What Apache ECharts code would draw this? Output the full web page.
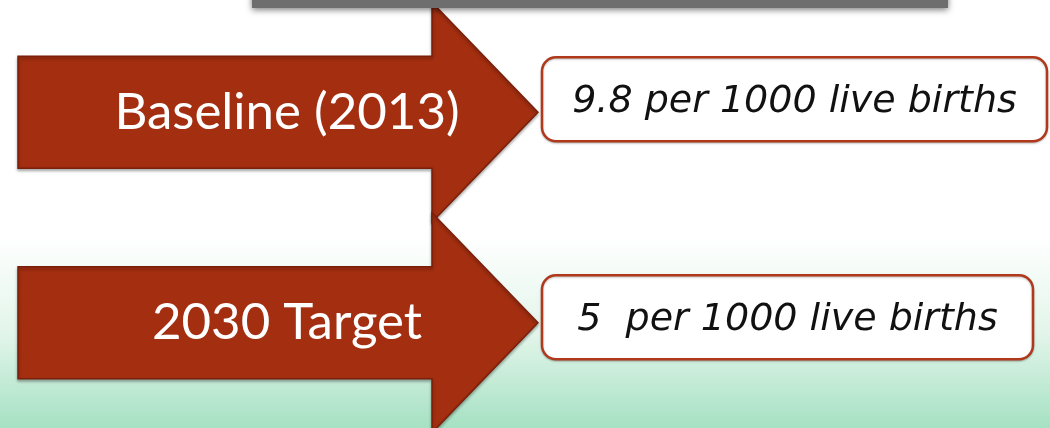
<!DOCTYPE html>
<html>
<head>
<meta charset="utf-8">
<script src="https://cdn.jsdelivr.net/npm/echarts@6/dist/echarts.min.js"></script>
<style>
  html, body { margin: 0; padding: 0; }
  #chart { width: 1050px; height: 428px; }
</style>
</head>
<body>
<div id="chart"></div>
<script>
// indicator rows
const rows = ['Baseline (2013)', '2030 Target']
const rates = [9.8, 5]
const rateLabels = ['9.8 per 1000 live births', '5  per 1000 live births']

// shape layout (x in axis units, y offsets in px from the row centre)
const arrowShape = { left: 18, base: 432, tip: 538, shaftHalf: 56, headHalf: 110, labelX: 287 }
const boxRight = [1047, 1033]
const boxShift = [-13, -5.5]

const chart = echarts.init(document.getElementById('chart'))

function renderRow(params, api) {
  const i = api.value(1)
  const cy = api.coord([0, i])[1]
  const xL = api.coord([arrowShape.left, i])[0]
  const xB = api.coord([arrowShape.base, i])[0]
  const xT = api.coord([arrowShape.tip, i])[0]
  const xLab = api.coord([arrowShape.labelX, i])[0]
  const bx0 = xT + 4
  const bx1 = api.coord([boxRight[i], i])[0]
  const by = cy + boxShift[i]
  const s = arrowShape.shaftHalf
  const h = arrowShape.headHalf

  return {
    type: 'group',
    children: [
      {
        type: 'polygon',
        shape: {
          points: [
            [xL, cy - s], [xB, cy - s], [xB, cy - h], [xT, cy],
            [xB, cy + h], [xB, cy + s], [xL, cy + s]
          ]
        },
        style: {
          fill: '#a32e10',
          stroke: '#7a1f0a',
          lineWidth: 1.5,
          shadowBlur: 3,
          shadowOffsetY: 2,
          shadowColor: 'rgba(0,0,0,0.3)'
        }
      },
      {
        type: 'text',
        x: xLab,
        y: cy,
        style: {
          text: rows[i],
          fill: '#ffffff',
          font: '400 51px Lato, "Open Sans", sans-serif',
          align: 'center',
          verticalAlign: 'middle'
        }
      },
      {
        type: 'rect',
        shape: { x: bx0, y: by - 42, width: bx1 - bx0, height: 84, r: 14 },
        style: {
          fill: '#ffffff',
          stroke: '#b0391b',
          lineWidth: 2.5,
          shadowBlur: 2,
          shadowOffsetY: 1,
          shadowColor: 'rgba(0,0,0,0.25)'
        }
      },
      {
        type: 'text',
        x: (bx0 + bx1) / 2,
        y: by + 3,
        style: {
          text: rateLabels[i],
          fill: '#111111',
          font: 'italic 400 38px "DejaVu Sans", sans-serif',
          align: 'center',
          verticalAlign: 'middle'
        }
      }
    ]
  }
}

const option = {
  animation: false,
  backgroundColor: {
    type: 'linear', x: 0, y: 0, x2: 0, y2: 1,
    colorStops: [
      { offset: 0, color: '#ffffff' },
      { offset: 0.55, color: '#ffffff' },
      { offset: 0.78, color: '#e2f5ea' },
      { offset: 1, color: '#a6e1c3' }
    ]
  },
  grid: { left: 0, width: 1050, top: 7, height: 428 },
  xAxis: { type: 'value', min: 0, max: 1050, show: false },
  yAxis: { type: 'category', data: rows, inverse: true, show: false },
  series: [{
    type: 'custom',
    renderItem: renderRow,
    data: rates.map((v, i) => [v, i]),
    encode: { x: 0, y: 1 },
    clip: false
  }],
  graphic: [{
    // bottom edge of the title box above
    type: 'rect',
    z: 100,
    shape: { x: 252, y: -12, width: 696, height: 20 },
    style: {
      fill: '#6e6e6e',
      shadowBlur: 6,
      shadowOffsetY: 2,
      shadowColor: 'rgba(0,0,0,0.5)'
    }
  }]
}

chart.setOption(option)
</script>
</body>
</html>
